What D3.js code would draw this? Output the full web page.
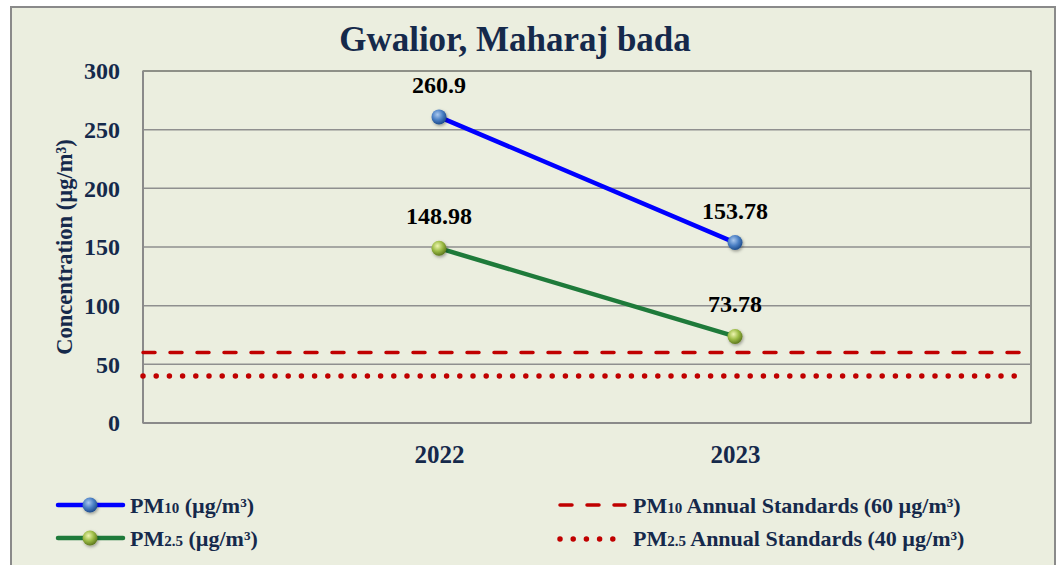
<!DOCTYPE html>
<html>
<head>
<meta charset="utf-8">
<script src="https://cdn.jsdelivr.net/npm/d3@7"></script>
<style>
  body { margin: 0; background: #ffffff; }
  svg { display: block; font-family: "Liberation Serif", "Times New Roman", serif; }
</style>
</head>
<body>
<svg id="chart" width="1060" height="565"></svg>
<script>
// data
const years = ["2022", "2023"];
const pm10 = [260.9, 153.78];
const pm25 = [148.98, 73.78];
const pm10Standard = 60;
const pm25Standard = 40;
const yTicks = [0, 50, 100, 150, 200, 250, 300];

const svg = d3.select("#chart");
const navy = "#15294b";

// chart background and frame
svg.append("rect")
  .attr("x", 11).attr("y", 7)
  .attr("width", 1044).attr("height", 570)
  .attr("fill", "#ebeedf")
  .attr("stroke", "#8a8a8a")
  .attr("stroke-width", 2);

const plot = { left: 143, top: 71, right: 1031, bottom: 423 };

const x = d3.scalePoint().domain(years).range([plot.left, plot.right]).padding(1);
const y = d3.scaleLinear().domain([0, 300]).range([plot.bottom, plot.top]);

// defs: gradients for the ball markers, soft shadow
const defs = svg.append("defs");
function ballgradient(id, light, mid, dark) {
  const g = defs.append("radialGradient")
    .attr("id", id).attr("cx", "40%").attr("cy", "35%").attr("r", "65%");
  g.append("stop").attr("offset", "0%").attr("stop-color", light);
  g.append("stop").attr("offset", "55%").attr("stop-color", mid);
  g.append("stop").attr("offset", "100%").attr("stop-color", dark);
}
ballgradient("ballblue", "#a9c8ee", "#4a7fc4", "#1f4d8c");
ballgradient("ballgreen", "#eef5b0", "#9bbb45", "#5f7a1e");
const shadow = defs.append("filter").attr("id", "shadow")
  .attr("x", "-50%").attr("y", "-50%").attr("width", "200%").attr("height", "200%");
shadow.append("feDropShadow").attr("dx", 1).attr("dy", 1.5)
  .attr("stdDeviation", 1.5).attr("flood-color", "#000").attr("flood-opacity", 0.35);

// plot frame (top/right dark, left/bottom gray axis)
svg.append("rect")
  .attr("x", plot.left).attr("y", plot.top)
  .attr("width", plot.right - plot.left).attr("height", plot.bottom - plot.top)
  .attr("fill", "#ebeedf")
  .attr("stroke", "#333")
  .attr("stroke-width", 1);

// gridlines
svg.append("g")
  .selectAll("line")
  .data(yTicks.filter(d => d > 0 && d < 300))
  .join("line")
  .attr("x1", plot.left).attr("x2", plot.right)
  .attr("y1", d => y(d)).attr("y2", d => y(d))
  .attr("stroke", "#8f8f8f")
  .attr("stroke-width", 1.5);

// axis lines
svg.append("line")
  .attr("x1", plot.left).attr("x2", plot.left)
  .attr("y1", plot.top).attr("y2", plot.bottom)
  .attr("stroke", "#8a8a8a").attr("stroke-width", 2);
svg.append("line")
  .attr("x1", plot.left).attr("x2", plot.right)
  .attr("y1", plot.bottom).attr("y2", plot.bottom)
  .attr("stroke", "#8a8a8a").attr("stroke-width", 2);

// y axis labels
const yAxis = svg.append("g")
  .attr("transform", `translate(${plot.left - 23},0)`)
  .call(d3.axisLeft(y).tickValues(yTicks).tickSize(0).tickPadding(0));
yAxis.select(".domain").remove();
yAxis.selectAll("text")
  .attr("font-family", "Liberation Serif")
  .attr("font-size", 24)
  .attr("font-weight", "bold")
  .attr("dy", "0.33em")
  .attr("fill", navy);

// x axis labels
const xAxis = svg.append("g")
  .attr("transform", `translate(0,${plot.bottom})`)
  .call(d3.axisBottom(x).tickSize(0).tickPadding(0));
xAxis.select(".domain").remove();
xAxis.selectAll("text")
  .attr("font-family", "Liberation Serif")
  .attr("font-size", 25)
  .attr("font-weight", "bold")
  .attr("y", 40)
  .attr("dy", 0)
  .attr("fill", navy);

// y axis title
svg.append("text")
  .attr("transform", `translate(72,${(plot.top + plot.bottom) / 2}) rotate(-90)`)
  .attr("text-anchor", "middle")
  .attr("font-size", 22.5)
  .attr("font-weight", "bold")
  .attr("fill", navy)
  .text("Concentration (µg/m³)");

// title
svg.append("text")
  .attr("x", 515).attr("y", 51)
  .attr("text-anchor", "middle")
  .attr("font-size", 35)
  .attr("font-weight", "bold")
  .attr("fill", navy)
  .text("Gwalior, Maharaj bada");

// standard lines
svg.append("line")
  .attr("x1", plot.left).attr("x2", 1020)
  .attr("y1", y(pm10Standard)).attr("y2", y(pm10Standard))
  .attr("stroke", "#c00000").attr("stroke-width", 3.5)
  .attr("stroke-linecap", "round")
  .attr("stroke-dasharray", "12 15");
svg.append("line")
  .attr("x1", plot.left).attr("x2", 1026)
  .attr("y1", y(pm25Standard)).attr("y2", y(pm25Standard))
  .attr("stroke", "#c00000").attr("stroke-width", 5.5)
  .attr("stroke-linecap", "round")
  .attr("stroke-dasharray", "0 13.2");

// series
const series = [
  { name: "pm10", values: pm10, color: "#0000ff", ball: "url(#ballblue)" },
  { name: "pm25", values: pm25, color: "#1e7a3a", ball: "url(#ballgreen)" }
];
const line = d3.line().x((d, i) => x(years[i])).y(d => y(d));

for (const s of series) {
  svg.append("path")
    .attr("d", line(s.values))
    .attr("fill", "none")
    .attr("stroke", s.color)
    .attr("stroke-width", 4.5)
    .attr("stroke-linecap", "round");
  svg.append("g")
    .selectAll("circle")
    .data(s.values)
    .join("circle")
    .attr("cx", (d, i) => x(years[i]))
    .attr("cy", d => y(d))
    .attr("r", 7.5)
    .attr("fill", s.ball)
    .attr("filter", "url(#shadow)");
  svg.append("g")
    .selectAll("text")
    .data(s.values)
    .join("text")
    .attr("x", (d, i) => x(years[i]))
    .attr("y", d => y(d) - 24)
    .attr("text-anchor", "middle")
    .attr("font-size", 24)
    .attr("font-weight", "bold")
    .attr("fill", "#000")
    .text(d => d);
}

// legend
function pmlabel(sel, sub, rest) {
  sel.append("tspan").text("PM");
  sel.append("tspan").attr("font-size", 15).text(sub);
  sel.append("tspan").text(rest);
}
const legend = svg.append("g").attr("font-size", 22).attr("font-weight", "bold").attr("fill", navy);

const legendLeft = [
  { s: series[0], sub: "10", rest: " (µg/m³)", y: 505 },
  { s: series[1], sub: "2.5", rest: " (µg/m³)", y: 538 }
];
for (const item of legendLeft) {
  legend.append("line")
    .attr("x1", 58).attr("x2", 123)
    .attr("y1", item.y).attr("y2", item.y)
    .attr("stroke", item.s.color).attr("stroke-width", 4.5)
    .attr("stroke-linecap", "round");
  legend.append("circle")
    .attr("cx", 90).attr("cy", item.y).attr("r", 7.5)
    .attr("fill", item.s.ball)
    .attr("filter", "url(#shadow)");
  legend.append("text")
    .attr("x", 130).attr("y", item.y + 8)
    .call(pmlabel, item.sub, item.rest);
}

legend.append("line")
  .attr("x1", 560).attr("x2", 625)
  .attr("y1", 505).attr("y2", 505)
  .attr("stroke", "#c00000").attr("stroke-width", 3.5)
  .attr("stroke-linecap", "round")
  .attr("stroke-dasharray", "12 15");
legend.append("line")
  .attr("x1", 560).attr("x2", 613)
  .attr("y1", 539).attr("y2", 539)
  .attr("stroke", "#c00000").attr("stroke-width", 5.5)
  .attr("stroke-linecap", "round")
  .attr("stroke-dasharray", "0 13.2");
legend.append("text")
  .attr("x", 633).attr("y", 513)
  .call(pmlabel, "10", ` Annual Standards (${pm10Standard} µg/m³)`);
legend.append("text")
  .attr("x", 633).attr("y", 546)
  .call(pmlabel, "2.5", ` Annual Standards (${pm25Standard} µg/m³)`);
</script>
</body>
</html>
